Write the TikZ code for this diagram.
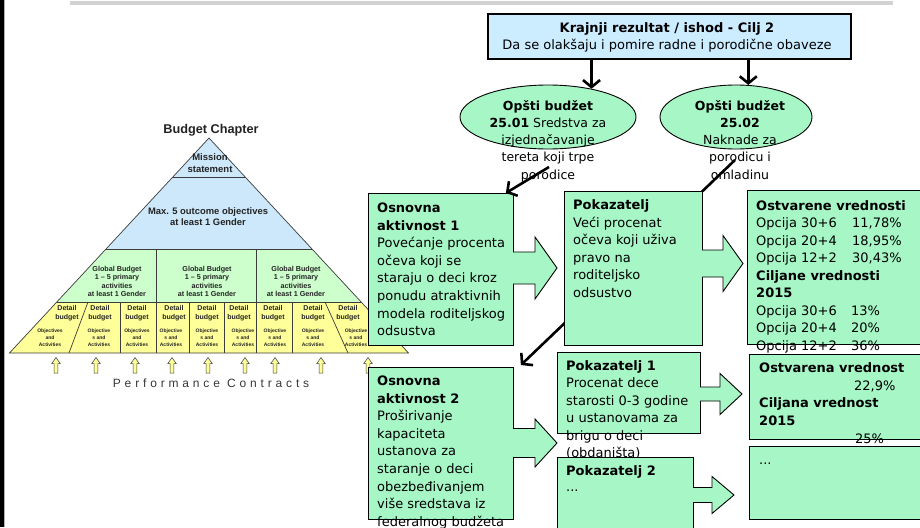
\documentclass[tikz,border=0pt]{standalone}
\usepackage{fontspec}
\setmainfont{DejaVu Sans}
\newfontfamily\arialf{Liberation Sans}
\usetikzlibrary{arrows.meta,shapes.geometric,calc}
\definecolor{mint}{RGB}{166,246,198}
\definecolor{skyb}{RGB}{204,236,255}
\definecolor{pblue}{RGB}{204,232,250}
\definecolor{pgreen}{RGB}{204,255,204}
\definecolor{pyellow}{RGB}{255,255,153}
\definecolor{ptext}{RGB}{35,35,35}
\definecolor{pdark}{RGB}{60,60,60}
\definecolor{pcgray}{RGB}{55,55,55}
\definecolor{topgray}{RGB}{210,210,210}
\pgfdeclarelayer{behind}
\pgfsetlayers{behind,main}
\newcommand{\objA}{Objectives\\and\\Activities}
\newcommand{\objB}{Objective\\s and\\Activities}
\newcommand{\mlL}[1]{\begin{tabular}[t]{@{}l@{}}#1\end{tabular}}
\newcommand{\mlC}[1]{\begin{tabular}[t]{@{}c@{}}#1\end{tabular}}
% #1 box edge x, #2 centre y, #3 shaft half height, #4 head half height, #5 shaft end x, #6 tip x
\newcommand{\blkarrow}[6]{%
  \fill[mint] ({#1-1.5},{#2-#3}) -- ({#5},{#2-#3}) -- ({#5},{#2-#4}) -- ({#6},{#2}) -- ({#5},{#2+#4}) -- ({#5},{#2+#3}) -- ({#1-1.5},{#2+#3}) -- cycle;
  \draw[boxline] ({#1},{#2-#3}) -- ({#5},{#2-#3}) -- ({#5},{#2-#4}) -- ({#6},{#2}) -- ({#5},{#2+#4}) -- ({#5},{#2+#3}) -- ({#1},{#2+#3});}
\begin{document}
\begin{tikzpicture}[x=1pt,y=-1pt,
  boxline/.style={draw=black, line width=0.9pt},
  gbox/.style={boxline, fill=mint, inner sep=0pt, anchor=north west},
  txt/.style={anchor=base west, inner sep=0pt, font=\fontsize{13}{17.6}\selectfont},
  etxt/.style={anchor=base, inner sep=0pt, font=\fontsize{12.5}{17.2}\selectfont},
  bigarrow/.style={line width=2.6pt, -{Straight Barb[length=7pt,width=17pt]}},
  pline/.style={draw=pdark, line width=0.7pt},
  ptxt/.style={text=ptext, inner sep=0pt, anchor=base},
]
\useasboundingbox (0,0) rectangle (920,527);
\clip (0,0) rectangle (920,527);

% frame details
\fill[black] (0,0) rectangle (4,527);
\fill[gray!60] (4,0) rectangle (5.3,527);
\fill[topgray] (70,1) rectangle (893,4.6);

% ---------------- pyramid ----------------
\fill[pblue] (209,138) -- (312,249) -- (106,249) -- cycle;
\fill[pgreen] (106,249) -- (312,249) -- (361.2,302) -- (56.8,302) -- cycle;
\fill[pyellow] (56.8,302) -- (361.2,302) -- (408.5,353) -- (9.5,353) -- cycle;
\draw[pline] (209,138) -- (408.5,353) -- (9.5,353) -- cycle;
\draw[pline] (172.8,177) -- (245.2,177);
\draw[pline] (106,249) -- (312,249);
\draw[pline] (56.8,302) -- (361.2,302);
\draw[pline] (156.7,249) -- (156.7,353);
\draw[pline] (256.7,249) -- (256.7,353);
\draw[pline] (88,302) -- (69,353);
\draw[pline] (120.7,302) -- (120.7,353);
\draw[pline] (189.3,302) -- (189.3,353);
\draw[pline] (224.3,302) -- (224.3,353);
\draw[pline] (292.7,302) -- (292.7,353);
\draw[pline] (325,302) -- (348,353);

\node[text=ptext, inner sep=0pt, font=\arialf\bfseries\fontsize{12.7}{14}\selectfont] (bchap) at (211,130) {Budget Chapter};
\node[ptxt, font=\arialf\bfseries\fontsize{9.5}{12}\selectfont] (mission) at (210,160.3) {\mlC{Mission\\statement}};
\node[ptxt, font=\arialf\bfseries\fontsize{9.4}{11}\selectfont] (maxo) at (208,214) {\mlC{Max. 5 outcome objectives\\at least 1 Gender}};
\foreach \x [count=\i] in {117,207,296}
  \node[ptxt, font=\arialf\bfseries\fontsize{7.2}{8.3}\selectfont] (glob\i) at (\x,271.6) {\mlC{Global Budget\\1 – 5 primary\\activities\\at least 1 Gender}};
\foreach \x [count=\i] in {67,100,137,174,207,239,273,313,348}
  \node[ptxt, font=\arialf\bfseries\fontsize{7}{8.5}\selectfont] (det\i) at (\x,310.8) {\mlC{Detail\\budget}};
\foreach \x/\t [count=\i] in {50/\objA,99/\objB,137/\objA,171/\objB,207/\objB,243/\objB,275/\objB,313/\objB,356/\objB}
  \node[ptxt, font=\arialf\bfseries\fontsize{5}{6.7}\selectfont] (obj\i) at (\x,332.8) {\mlC{\t}};
\foreach \x in {56,96,135,172,208,245,275,321,368}
  \draw[draw=pdark, line width=0.5pt, fill=pyellow] (\x-1.8,373) -- (\x-1.8,363.5) -- (\x-4.2,363.5) -- (\x,357.5) -- (\x+4.2,363.5) -- (\x+1.8,363.5) -- (\x+1.8,373) -- cycle;
\node[anchor=base west, inner sep=0pt, text=pcgray, font=\arialf\fontsize{12}{14}\selectfont\addfontfeature{LetterSpace=32}] (pc) at (112.7,387.5) {Performance Contracts};

% ---------------- top box and ellipses ----------------
\node[draw=black, line width=1.8pt, fill=skyb, minimum width=363pt, minimum height=45pt, anchor=north west, inner sep=0pt] (top) at (487,13) {};
\node[anchor=base, inner sep=0pt, font=\fontsize{13}{17}\selectfont] (toptxt) at (667,32.5) {\mlC{\textbf{Krajnji rezultat / ishod - Cilj 2}\\Da se olakšaju i pomire radne i porodične obaveze}};

\node[ellipse, draw=black, line width=0.9pt, fill=mint, minimum width=176pt, minimum height=64pt, inner sep=0pt] (e1) at (548,117) {};
\node[ellipse, draw=black, line width=0.9pt, fill=mint, minimum width=152pt, minimum height=64pt, inner sep=0pt] (e2) at (736,117) {};
\draw[bigarrow] (e1.33 |- top.south) -- (e1.33);
\draw[bigarrow] (e2.69 |- top.south) -- (e2.69);
\node[etxt] (e1t) at (548,110.3) {\mlC{\textbf{Opšti budžet}\\\textbf{25.01} Sredstva za\\izjednačavanje\\tereta koji trpe\\porodice}};
\node[etxt] (e2t) at (740,110.3) {\mlC{\textbf{Opšti budžet}\\\textbf{25.02}\\Naknade za\\porodicu i\\omladinu}};

% ---------------- green boxes ----------------
\node[gbox, minimum width=145pt, minimum height=152pt] (oa1) at (368,193) {};
\node[txt] (oa1t) at (377,212.4) {\mlL{\textbf{Osnovna}\\\textbf{aktivnost 1}\\Povećanje procenta\\očeva koji se\\staraju o deci kroz\\ponudu atraktivnih\\modela roditeljskog\\odsustva}};
\blkarrow{513}{268}{16}{31}{535}{557}

\coordinate (d1s) at (549,167);
\draw[bigarrow] (d1s) -- ($(oa1.north east)+(-8,0)$);

\node[gbox, minimum width=138pt, minimum height=154pt] (pk) at (564,191) {};
\node[txt] (pkt) at (573,209.4) {\mlL{\textbf{Pokazatelj}\\Veći procenat\\očeva koji uživa\\pravo na\\roditeljsko\\odsustvo}};
\blkarrow{702}{263.5}{13.5}{28}{723}{743}

\node[gbox, minimum width=180pt, minimum height=154pt] (ov) at (747,190) {};
\node[txt, font=\fontsize{13}{17.5}\selectfont] (ovt) at (756,210.4) {\mlL{\textbf{Ostvarene vrednosti}\\\makebox[96pt][l]{Opcija 30+6}11,78\%\\\makebox[96pt][l]{Opcija 20+4}18,95\%\\\makebox[96pt][l]{Opcija 12+2}30,43\%\\\textbf{Ciljane vrednosti}\\\textbf{2015}\\\makebox[95pt][l]{Opcija 30+6}13\%\\\makebox[95pt][l]{Opcija 20+4}20\%\\\makebox[95pt][l]{Opcija 12+2}36\%}};

\node[gbox, minimum width=180pt, minimum height=85pt] (ov2) at (749,354) {};
\node[txt, font=\fontsize{13}{17.7}\selectfont] (ov2t) at (759,372.4) {\mlL{\textbf{Ostvarena vrednost}\\\hspace*{95pt}22,9\%\\\textbf{Ciljana vrednost}\\\textbf{2015}\\\hspace*{96pt}25\%}};

\node[gbox, minimum width=180pt, minimum height=73pt] (b3) at (749,446) {};
\node[txt] (b3t) at (759,464) {...};

\node[gbox, minimum width=145pt, minimum height=152pt] (oa2) at (368,367) {};
\node[txt] (oa2t) at (377,385.4) {\mlL{\textbf{Osnovna}\\\textbf{aktivnost 2}\\Proširivanje\\kapaciteta\\ustanova za\\staranje o deci\\obezbeđivanjem\\više sredstava iz\\federalnog budžeta}};
\blkarrow{513}{443}{14.5}{24}{535}{557}

\node[gbox, minimum width=143pt, minimum height=81pt] (p1) at (557,352) {};
\node[txt, font=\fontsize{13}{17.4}\selectfont] (p1t) at (566,370.4) {\mlL{\textbf{Pokazatelj 1}\\Procenat dece\\starosti 0-3 godine\\u ustanovama za\\brigu o deci\\(obdaništa)}};
\blkarrow{700}{394}{7}{20.5}{720}{742}

\node[gbox, minimum width=136pt, minimum height=80pt] (p2) at (557,457) {};
\node[txt, font=\fontsize{13}{16}\selectfont] (p2t) at (566,475.4) {\mlL{\textbf{Pokazatelj 2}\\...}};
\blkarrow{693}{495}{7.5}{18.5}{712}{734}

\coordinate (d2s) at (735,160);
\begin{pgfonlayer}{behind}
\draw[bigarrow] (d2s) -- ($(oa2.north east)+(7,-2)$);
\end{pgfonlayer}
\end{tikzpicture}
\end{document}
